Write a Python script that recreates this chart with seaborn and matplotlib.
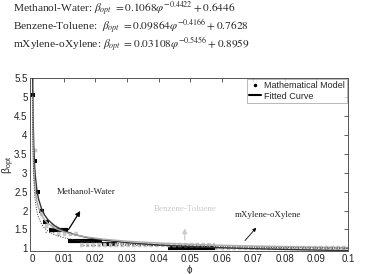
import seaborn as sns
import matplotlib.pyplot as plt
import numpy as np
import pandas as pd
from matplotlib.lines import Line2D


# Stil grafic

sns.set_theme(style="white")
plt.rcParams["font.family"] = ["Liberation Sans", "DejaVu Sans"]
plt.rcParams["mathtext.fontset"] = "stix"


# Coeficienti ai curbelor fitate (din ecuatiile de sus)

systems = ["Methanol-Water", "Benzene-Toluene", "mXylene-oXylene"]
coef_a = [0.1068, 0.09864, 0.03108]
coef_b = [-0.4422, -0.4166, -0.5456]
coef_c = [0.6446, 0.7628, 0.8959]

# Puncte izolate ale modelului matematic

mw_pts_phi = [0.0003, 0.001, 0.0018]
mw_pts_beta = [5.05, 3.3, 2.5]
bt_pts_phi = [0.0008, 0.0012]
bt_pts_beta = [3.6, 2.45]

# Trepte ale modelului (phi start, phi stop, beta)

mw_start = [0.0022, 0.0035, 0.0053, 0.0113, 0.022, 0.043]
mw_stop = [0.0037, 0.0053, 0.0113, 0.022, 0.027, 0.058]
mw_beta = [1.98, 1.69, 1.49, 1.19, 1.12, 1.02]

bt_start = [0.0025, 0.004, 0.008, 0.015, 0.058]
bt_stop = [0.004, 0.008, 0.015, 0.058, 0.1]
bt_beta = [1.9, 1.6, 1.39, 1.09, 1.02]

xx_start = [0.0042, 0.016, 0.058]
xx_stop = [0.0075, 0.058, 0.1]
xx_beta = [1.42, 1.1, 1.02]

phi_grid = [0.00012, 0.0002, 0.0003, 0.0005, 0.0008, 0.001, 0.0015, 0.002,
            0.003, 0.004, 0.005, 0.007, 0.01, 0.013, 0.017, 0.022, 0.03,
            0.04, 0.05, 0.06, 0.07, 0.08, 0.09, 0.1]


rows = []
for s, a, b, c in zip(systems, coef_a, coef_b, coef_c):
    for p in phi_grid:
        rows.append({"sistem": s, "phi": p, "beta": a * p ** b + c})
df_fit = pd.DataFrame(rows)


fig = plt.figure(figsize=(3.88, 2.74), dpi=100)
ax = fig.add_axes([0.078, 0.084, 0.819, 0.631])


# Modelul matematic

ax.hlines(mw_beta, mw_start, mw_stop, colors="black", linewidth=3.0, zorder=2)
ax.hlines(bt_beta, bt_start, bt_stop, colors="#c9c9c9", linewidth=3.2,
          linestyles=(0, (0.8, 0.5)), zorder=3)
ax.hlines(xx_beta, xx_start, xx_stop, colors="#7a7a7a", linewidth=0.9,
          linestyles=(0, (1, 2)), zorder=4)
sns.scatterplot(x=mw_pts_phi, y=mw_pts_beta, ax=ax, color="black",
                marker="s", s=6, linewidth=0, zorder=5)
sns.scatterplot(x=bt_pts_phi, y=bt_pts_beta, ax=ax, color="#c9c9c9",
                s=8, linewidth=0, zorder=4)


# Curbele fitate

sns.lineplot(data=df_fit[df_fit.sistem == systems[0]], x="phi", y="beta",
             ax=ax, color="#333333", linewidth=1.0, zorder=6)
sns.lineplot(data=df_fit[df_fit.sistem == systems[1]], x="phi", y="beta",
             ax=ax, color="#aaaaaa", linewidth=1.0, zorder=6)
sns.lineplot(data=df_fit[df_fit.sistem == systems[2]], x="phi", y="beta",
             ax=ax, color="#333333", linewidth=0.7, linestyle=(0, (1, 1.5)),
             zorder=6)


# Axe

ax.set_xlim(-0.0006, 0.1)
ax.set_ylim(0.93, 5.5)
ax.set_xticks(np.arange(0, 0.101, 0.01))
ax.set_xticklabels(["0", "0.01", "0.02", "0.03", "0.04", "0.05", "0.06",
                    "0.07", "0.08", "0.09", "0.1"])
ax.set_yticks(np.arange(1, 5.51, 0.5))
ax.set_yticklabels(["1", "1.5", "2", "2.5", "3", "3.5", "4", "4.5", "5", "5.5"])
ax.tick_params(direction="in", length=3, width=0.6, labelsize=7,
               top=True, right=True, pad=2, colors="#444444",
               labelcolor="#222222")
for sp in ax.spines.values():
    sp.set_color("#555555")
    sp.set_linewidth(0.7)
ax.set_xlabel("ϕ", fontsize=7, labelpad=1)
ax.set_ylabel(r"$\mathregular{\beta_{opt}}$", fontsize=7.5)
ax.yaxis.set_label_coords(-0.043, 0.5)


# Adnotari

serif = ["Liberation Serif", "DejaVu Serif"]
ax.annotate("Methanol-Water", xy=(0.0157, 2.05), xytext=(0.0172, 2.5),
            fontsize=6.5, family=serif, ha="center", va="center")
ax.annotate("", xy=(0.0157, 2.05), xytext=(0.011, 1.43),
            arrowprops=dict(arrowstyle="-|>", color="black", lw=0.9,
                            mutation_scale=7))
ax.annotate("Benzene-Toluene", xy=(0.0483, 2.05), fontsize=6.5, family=serif,
            ha="center", va="center", color="#cccccc")
ax.annotate("", xy=(0.0483, 1.6), xytext=(0.0483, 1.15),
            arrowprops=dict(arrowstyle="-|>", color="#cccccc", lw=0.9,
                            mutation_scale=7))
ax.annotate("mXylene-oXylene", xy=(0.0745, 1.87), fontsize=6.5, family=serif,
            ha="center", va="center")
ax.annotate("", xy=(0.0715, 1.6), xytext=(0.0668, 1.15),
            arrowprops=dict(arrowstyle="-|>", color="black", lw=0.6,
                            mutation_scale=5))


# Legenda

handles = [Line2D([], [], color="black", marker=".", markersize=3,
                  linestyle="none"),
           Line2D([], [], color="black", linewidth=1.5)]
leg = ax.legend(handles, ["Mathematical Model", "Fitted Curve"],
                loc="upper right", fontsize=6.5, frameon=True, fancybox=False,
                borderaxespad=0.1, handlelength=1.4, handletextpad=0.3,
                borderpad=0.25, labelspacing=0.15)
leg.get_frame().set_edgecolor("#999999")
leg.get_frame().set_linewidth(0.6)


# Ecuatiile de sus

eqs = [r"Methanol-Water: $\beta_{opt}$ $= 0.1068\varphi^{-0.4422} + 0.6446$",
       r"Benzene-Toluene:  $\beta_{opt}$ $= 0.09864\varphi^{-0.4166} + 0.7628$",
       r"mXylene-oXylene: $\beta_{opt}$ $= 0.03108\varphi^{-0.5456} + 0.8959$"]
for i, t in enumerate(eqs):
    fig.text(0.034, 1 - (9.5 + 17.5 * i) / 274, t, fontsize=8.2, family=serif,
             va="center", ha="left")

fig.savefig("out.png", dpi=100)
